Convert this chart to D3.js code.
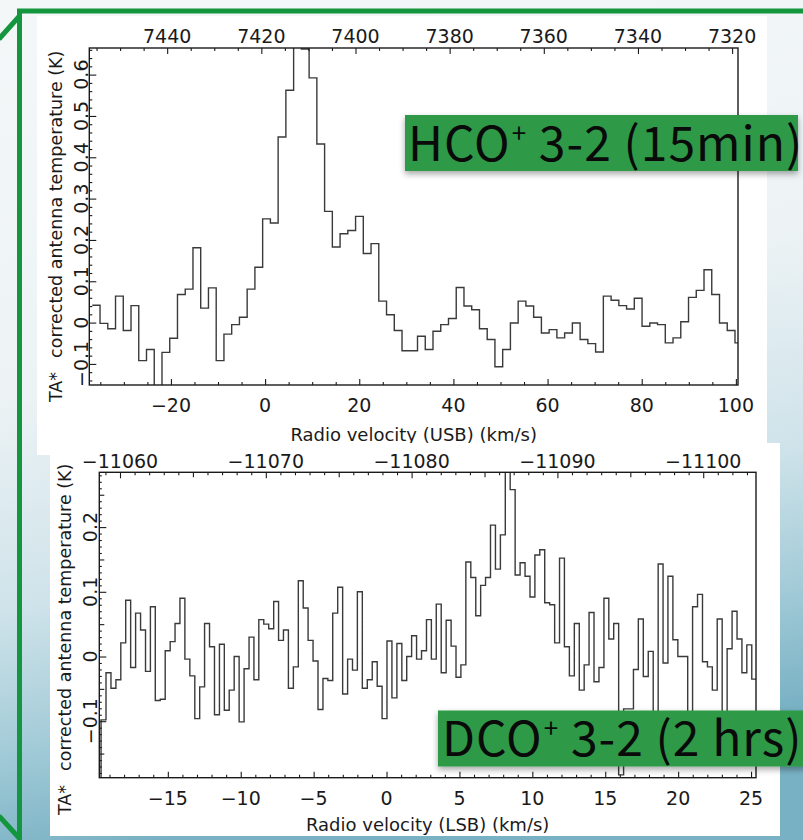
<!DOCTYPE html>
<html>
<head>
<meta charset="utf-8">
<script src="https://cdn.jsdelivr.net/npm/d3@7"></script>
<style>
  html, body { margin: 0; padding: 0; }
  body { width: 803px; height: 840px; overflow: hidden; }
  svg { display: block; }
</style>
</head>
<body>
<svg id="fig" width="803" height="840"></svg>
<script>
// HCO+ 3-2 spectrum: channel centre velocity (km/s) and TA* (K)
const hcoVelocity = [
  -35.88, -34.24, -32.59, -30.95, -29.30, -27.66, -26.01, -24.37, -22.72, -21.08,
  -19.43, -17.79, -16.14, -14.50, -12.85, -11.21, -9.56, -7.92, -6.27, -4.63,
  -2.99, -1.34, 0.30, 1.95, 3.59, 5.24, 6.88, 8.53, 10.17, 11.82,
  13.46, 15.11, 16.75, 18.40, 20.04, 21.68, 23.33, 24.97, 26.62, 28.26,
  29.91, 31.55, 33.20, 34.84, 36.49, 38.13, 39.78, 41.42, 43.07, 44.71,
  46.36, 48.00, 49.64, 51.29, 52.93, 54.58, 56.22, 57.87, 59.51, 61.16,
  62.80, 64.45, 66.09, 67.74, 69.38, 71.03, 72.67, 74.32, 75.96, 77.60,
  79.25, 80.89, 82.54, 84.18, 85.83, 87.47, 89.12, 90.76, 92.41, 94.05,
  95.70, 97.34, 98.99, 100.63
];
const hcoTemperature = [
  0.042, -0.002, -0.015, 0.064, -0.019, 0.041, -0.092, -0.065, -0.170, -0.072,
  -0.038, 0.068, 0.081, 0.181, 0.035, 0.084, -0.092, -0.028, -0.005, 0.013,
  0.081, 0.134, 0.251, 0.241, 0.449, 0.562, 0.700, 0.662, 0.592, 0.432,
  0.269, 0.183, 0.215, 0.223, 0.257, 0.167, 0.191, 0.052, 0.019, -0.019,
  -0.068, -0.068, -0.033, -0.065, -0.021, -0.005, 0.010, 0.085, 0.040, 0.031,
  -0.015, -0.041, -0.107, -0.065, -0.001, 0.052, 0.040, 0.013, -0.025, -0.017,
  -0.037, -0.025, -0.001, -0.041, -0.051, -0.071, 0.064, 0.054, 0.041, 0.033,
  0.059, -0.009, -0.001, -0.005, -0.049, -0.037, 0.002, 0.061, 0.078, 0.128,
  0.068, -0.001, -0.019, -0.049
];

// DCO+ 3-2 spectrum: channel centre velocity (km/s) and TA* (K)
const dcoVelocity = [
  -19.75, -19.41, -19.07, -18.73, -18.39, -18.06, -17.72, -17.38, -17.04, -16.70,
  -16.36, -16.03, -15.69, -15.35, -15.01, -14.67, -14.34, -14.00, -13.66, -13.32,
  -12.98, -12.65, -12.31, -11.97, -11.63, -11.29, -10.96, -10.62, -10.28, -9.94,
  -9.60, -9.26, -8.93, -8.59, -8.25, -7.91, -7.57, -7.24, -6.90, -6.56,
  -6.22, -5.88, -5.55, -5.21, -4.87, -4.53, -4.19, -3.86, -3.52, -3.18,
  -2.84, -2.50, -2.17, -1.83, -1.49, -1.15, -0.81, -0.47, -0.14, 0.20,
  0.54, 0.88, 1.22, 1.55, 1.89, 2.23, 2.57, 2.91, 3.24, 3.58,
  3.92, 4.26, 4.60, 4.93, 5.27, 5.61, 5.95, 6.29, 6.62, 6.96,
  7.30, 7.64, 7.98, 8.31, 8.65, 8.99, 9.33, 9.67, 10.01, 10.34,
  10.68, 11.02, 11.36, 11.70, 12.03, 12.37, 12.71, 13.05, 13.39, 13.72,
  14.06, 14.40, 14.74, 15.08, 15.41, 15.75, 16.09, 16.43, 16.77, 17.10,
  17.44, 17.78, 18.12, 18.46, 18.80, 19.13, 19.47, 19.81, 20.15, 20.49,
  20.82, 21.16, 21.50, 21.84, 22.18, 22.51, 22.85, 23.19, 23.53, 23.87,
  24.21, 24.54, 24.88, 25.22
];
const dcoTemperature = [
  -0.250, -0.098, -0.025, -0.049, -0.036, 0.021, 0.087, -0.017, 0.067, 0.041,
  -0.023, 0.077, -0.068, -0.066, 0.009, 0.023, 0.051, 0.090, -0.004, -0.030,
  -0.096, -0.047, 0.051, 0.015, -0.090, 0.019, -0.083, -0.052, 0.000, -0.101,
  -0.019, 0.030, -0.036, 0.057, 0.050, 0.043, 0.085, 0.025, 0.041, -0.049,
  -0.016, 0.117, 0.075, 0.025, -0.007, -0.082, -0.034, -0.037, 0.067, 0.107,
  -0.058, -0.004, -0.021, 0.100, -0.049, -0.036, -0.008, -0.046, -0.096, 0.024,
  -0.064, 0.020, -0.037, 0.000, 0.032, -0.004, 0.009, 0.057, -0.004, 0.081,
  -0.025, 0.056, 0.016, -0.032, -0.013, 0.146, 0.122, 0.063, 0.110, 0.122,
  0.203, 0.135, 0.188, 0.350, 0.258, 0.126, 0.145, 0.124, 0.092, 0.157,
  0.165, 0.083, 0.080, 0.021, 0.152, 0.015, -0.030, 0.051, -0.052, -0.013,
  0.068, -0.039, -0.017, 0.090, 0.027, 0.051, -0.183, -0.081, -0.081, -0.020,
  0.058, -0.031, 0.008, -0.090, 0.143, -0.010, 0.124, 0.026, 0.000, 0.000,
  -0.100, 0.077, 0.096, -0.008, -0.016, -0.052, 0.058, -0.090, 0.012, 0.070,
  0.027, -0.025, 0.018, -0.035
];

// Tick labels
const hcoBottomTicks = [-20, 0, 20, 40, 60, 80, 100];
const hcoTopTicks = [7440, 7420, 7400, 7380, 7360, 7340, 7320];
const hcoLeftTicks = [-0.1, 0, 0.1, 0.2, 0.3, 0.4, 0.5, 0.6];
const dcoBottomTicks = [-15, -10, -5, 0, 5, 10, 15, 20, 25];
const dcoTopTicks = [-11060, -11070, -11080, -11090, -11100];
const dcoLeftTicks = [-0.1, 0, 0.1, 0.2];

// Line titles
const lineTitles = [
  { species: "HCO", charge: "+", transition: " 3-2 (15min)" },
  { species: "DCO", charge: "+", transition: " 3-2 (2 hrs)" }
];

const yTitle = ["TA*", "corrected antenna temperature (K)"];
const hcoXTitle = "Radio velocity (USB) (km/s)";
const dcoXTitle = "Radio velocity (LSB) (km/s)";

const svg = d3.select("#fig");
const defs = svg.append("defs");

// slide background
const bg = defs.append("linearGradient").attr("id", "bgGrad")
  .attr("x1", 0).attr("y1", 0).attr("x2", 0.2).attr("y2", 1);
[[0, "#f4f7f8"], [0.45, "#edf3f5"], [0.7, "#cfe3ea"], [0.85, "#a6cdd9"], [1, "#78b1c4"]]
  .forEach(([o, c]) => bg.append("stop").attr("offset", o).attr("stop-color", c));
svg.append("rect").attr("width", 803).attr("height", 840).attr("fill", "url(#bgGrad)");

const shadow = defs.append("filter").attr("id", "boxShadow")
  .attr("x", "-10%").attr("y", "-30%").attr("width", "120%").attr("height", "170%");
shadow.append("feDropShadow").attr("dx", 0).attr("dy", 3).attr("stdDeviation", 3)
  .attr("flood-color", "#000").attr("flood-opacity", 0.35);

const lineShadow = defs.append("filter").attr("id", "lineShadow")
  .attr("x", "-20%").attr("y", "-20%").attr("width", "140%").attr("height", "140%");
lineShadow.append("feGaussianBlur").attr("stdDeviation", 2);

// green slide frame
const frameColor = "#14963e";
const frameLines = [
  [[17, 11], [803, 11]],
  [[19.5, 9], [19.5, 840]],
  [[-1, 39], [19.5, 16]],
  [[-1, 816], [20, 839]]
];
const gFrame = svg.append("g");
gFrame.selectAll("path.sh").data(frameLines.slice(0, 2)).join("path")
  .attr("d", d => d3.line()(d.map(p => [p[0] + 2, p[1] + 4])))
  .attr("stroke", "#000").attr("stroke-opacity", 0.25).attr("stroke-width", 5)
  .attr("fill", "none").attr("filter", "url(#lineShadow)");

// white plot cards
const cards = [
  { x: 37, y: 16, w: 730, h: 439 },
  { x: 50, y: 443, w: 730, h: 393 }
];

const panels = [
  {
    velocity: hcoVelocity, temperature: hcoTemperature,
    frame: { x0: 89.3, x1: 738, y0: 48, y1: 385 },
    xDomain: [-37.34, 100.45], yDomain: [-0.151, 0.6644],
    topOffset: 7419.2,
    bottomTicks: hcoBottomTicks, bottomMinor: 5,
    topTicks: hcoTopTicks, topMinor: 5,
    leftTicks: hcoLeftTicks, leftMinor: 0.02, leftMid: null,
    bottomLabelY: 412, topLabelY: 43, leftLabelX: 88,
    xTitle: hcoXTitle, xTitleY: 441, yTitleX: 62, yTitleStart: 402,
    card: cards[0]
  },
  {
    velocity: dcoVelocity, temperature: dcoTemperature,
    frame: { x0: 99.3, x1: 756, y0: 472.3, y1: 777.7 },
    xDomain: [-19.70, 25.34], yDomain: [-0.1873, 0.2847],
    topOffset: -11078.28,
    bottomTicks: dcoBottomTicks, bottomMinor: 1,
    topTicks: dcoTopTicks, topMinor: 1, topMid: 5,
    leftTicks: dcoLeftTicks, leftMinor: 0.01, leftMid: 0.05,
    bottomLabelY: 805, topLabelY: 468, leftLabelX: 97,
    xTitle: dcoXTitle, xTitleY: 831, yTitleX: 70.5, yTitleStart: 815,
    card: cards[1]
  }
];

const tickFont = "'DejaVu Sans', 'Lucida Grande', sans-serif";
const inkColor = "#1a1a1a";

function minorValues(domain, step, majors) {
  const lo = Math.min(...domain), hi = Math.max(...domain);
  const start = Math.ceil(lo / step) * step;
  return d3.range(start, hi + step * 1e-6, step)
    .map(v => Math.round(v / step) * step)
    .filter(v => v >= lo && v <= hi && !majors.some(m => Math.abs(m - v) < step * 1e-3));
}

function stepPoints(vel, val) {
  const n = vel.length, pts = [];
  for (let i = 0; i < n; i++) {
    const lo = i === 0 ? vel[0] - (vel[1] - vel[0]) / 2 : (vel[i - 1] + vel[i]) / 2;
    const hi = i === n - 1 ? vel[n - 1] + (vel[n - 1] - vel[n - 2]) / 2 : (vel[i] + vel[i + 1]) / 2;
    pts.push([lo, val[i]], [hi, val[i]]);
  }
  return pts;
}

function tickMarks(g, axisFn, scale, values, size, transform) {
  g.append("g").attr("transform", transform)
    .call(axisFn(scale).tickValues(values).tickSize(-size).tickSizeOuter(0).tickFormat(""))
    .call(s => s.select(".domain").remove())
    .call(s => s.selectAll("line").attr("stroke", inkColor).attr("stroke-width", 1.1));
}

const fmtY = v => Math.abs(v) < 1e-9 ? "0" : d3.format(".1f")(v);

panels.forEach((p, idx) => {
  const c = p.card;
  const clipId = "card" + idx;
  defs.append("clipPath").attr("id", clipId)
    .append("rect").attr("x", c.x).attr("y", c.y).attr("width", c.w).attr("height", c.h);
  const plotClip = "plot" + idx;
  defs.append("clipPath").attr("id", plotClip)
    .append("rect").attr("x", p.frame.x0).attr("y", p.frame.y0)
    .attr("width", p.frame.x1 - p.frame.x0).attr("height", p.frame.y1 - p.frame.y0);

  svg.append("rect").attr("x", c.x).attr("y", c.y).attr("width", c.w).attr("height", c.h)
    .attr("fill", "#ffffff");
  const g = svg.append("g").attr("clip-path", `url(#${clipId})`);

  const x = d3.scaleLinear().domain(p.xDomain).range([p.frame.x0, p.frame.x1]);
  const y = d3.scaleLinear().domain(p.yDomain).range([p.frame.y1, p.frame.y0]);
  const xTop = d3.scaleLinear().domain(p.xDomain.map(v => p.topOffset - v)).range([p.frame.x0, p.frame.x1]);

  // spectrum
  g.append("path")
    .attr("clip-path", `url(#${plotClip})`)
    .datum(stepPoints(p.velocity, p.temperature))
    .attr("d", d3.line().x(d => x(d[0])).y(d => y(d[1])))
    .attr("fill", "none").attr("stroke", "#3a3a3a").attr("stroke-width", 1.4);

  // ticks (pointing into the plot)
  tickMarks(g, d3.axisBottom, x, p.bottomTicks, 6, `translate(0,${p.frame.y1})`);
  tickMarks(g, d3.axisBottom, x, minorValues(p.xDomain, p.bottomMinor, p.bottomTicks), 3, `translate(0,${p.frame.y1})`);
  tickMarks(g, d3.axisTop, xTop, p.topTicks, 6, `translate(0,${p.frame.y0})`);
  if (p.topMid) {
    const mids = minorValues(xTop.domain(), p.topMid, p.topTicks);
    tickMarks(g, d3.axisTop, xTop, mids, 5, `translate(0,${p.frame.y0})`);
    tickMarks(g, d3.axisTop, xTop, minorValues(xTop.domain(), p.topMinor, p.topTicks.concat(mids)), 3, `translate(0,${p.frame.y0})`);
  } else {
    tickMarks(g, d3.axisTop, xTop, minorValues(xTop.domain(), p.topMinor, p.topTicks), 3, `translate(0,${p.frame.y0})`);
  }
  tickMarks(g, d3.axisLeft, y, p.leftTicks, 7, `translate(${p.frame.x0},0)`);
  if (p.leftMid) {
    const mids = minorValues(p.yDomain, p.leftMid, p.leftTicks);
    tickMarks(g, d3.axisLeft, y, mids, 5, `translate(${p.frame.x0},0)`);
    tickMarks(g, d3.axisLeft, y, minorValues(p.yDomain, p.leftMinor, p.leftTicks.concat(mids)), 2.5, `translate(${p.frame.x0},0)`);
  } else {
    tickMarks(g, d3.axisLeft, y, minorValues(p.yDomain, p.leftMinor, p.leftTicks), 3, `translate(${p.frame.x0},0)`);
  }

  // frame
  g.append("rect").attr("x", p.frame.x0).attr("y", p.frame.y0)
    .attr("width", p.frame.x1 - p.frame.x0).attr("height", p.frame.y1 - p.frame.y0)
    .attr("fill", "none").attr("stroke", inkColor).attr("stroke-width", 1.4);

  // tick labels
  const labels = g.append("g").attr("font-family", tickFont).attr("font-size", 19).attr("fill", inkColor);
  labels.selectAll("text.b").data(p.bottomTicks).join("text")
    .attr("x", d => x(d)).attr("y", p.bottomLabelY).attr("text-anchor", "middle")
    .text(d => d3.format("d")(d));
  labels.selectAll("text.t").data(p.topTicks).join("text")
    .attr("x", d => xTop(d)).attr("y", p.topLabelY).attr("text-anchor", "middle")
    .text(d => d3.format("d")(d));
  labels.selectAll("text.l").data(p.leftTicks).join("text")
    .attr("transform", d => `translate(${p.leftLabelX},${y(d)}) rotate(-90)`)
    .attr("text-anchor", "middle")
    .text(fmtY);

  // axis titles
  const titles = g.append("g").attr("font-family", tickFont).attr("fill", inkColor);
  titles.append("text").attr("font-size", 18)
    .attr("x", (p.frame.x0 + p.frame.x1) / 2).attr("y", p.xTitleY).attr("text-anchor", "middle")
    .text(p.xTitle);
  const yt = titles.append("text").attr("font-size", 17.5)
    .attr("transform", `translate(${p.yTitleX},${p.yTitleStart}) rotate(-90)`)
    .attr("text-anchor", "start");
  yt.append("tspan").text(yTitle[0]);
  yt.append("tspan").attr("dx", 14).text(yTitle[1]);
});

// green frame on top of the cards
gFrame.raise();
gFrame.selectAll("path.ln").data(frameLines).join("path")
  .attr("d", d => d3.line()(d))
  .attr("stroke", frameColor).attr("stroke-width", 5).attr("fill", "none");

// line title boxes
const boxes = [
  { x: 405, y: 115, w: 393, h: 56, tx: 408, ty: 160.5 },
  { x: 438, y: 710.5, w: 370, h: 56, tx: 442, ty: 756 }
];
lineTitles.forEach((t, i) => {
  const b = boxes[i];
  const gb = svg.append("g");
  gb.append("rect").attr("x", b.x).attr("y", b.y).attr("width", b.w).attr("height", b.h)
    .attr("fill", "#2f9946").attr("filter", "url(#boxShadow)");
  const tx = gb.append("text").attr("x", b.tx).attr("y", b.ty)
    .attr("font-family", "'Noto Sans CJK JP', 'Noto Sans', sans-serif")
    .attr("font-size", 48).attr("letter-spacing", 1.0).attr("fill", "#0a0a0a");
  tx.append("tspan").text(t.species);
  tx.append("tspan").attr("font-size", 26).attr("dy", -18).attr("dx", 1).text(t.charge);
  tx.append("tspan").attr("dy", 18).text(t.transition);
});
</script>
</body>
</html>
